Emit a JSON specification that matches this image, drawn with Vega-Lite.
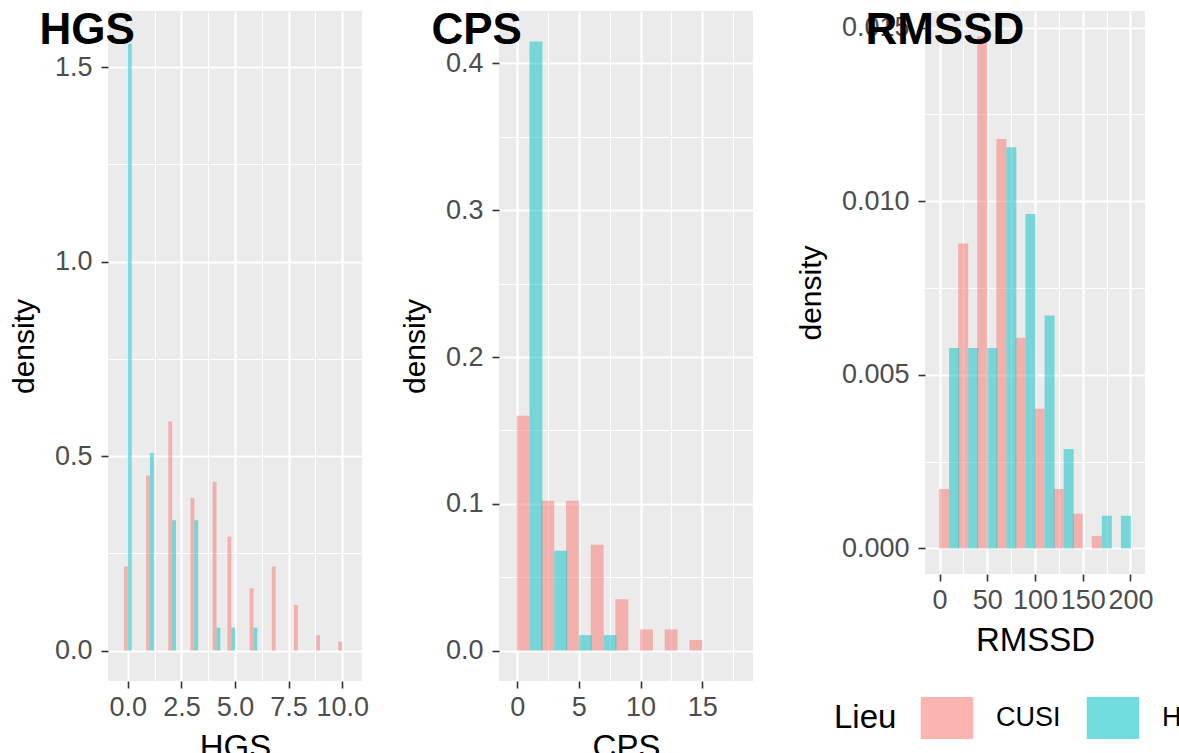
{
  "$schema": "https://vega.github.io/schema/vega-lite/v6.json",
  "background": "white",
  "padding": {"left": 9, "top": 9, "right": 0, "bottom": 0},
  "data": {"values": [
    {"v":"HGS","Lieu":"CUSI","x":0,"density":0.216},
    {"v":"HGS","Lieu":"CUSI","x":1.034,"density":0.45},
    {"v":"HGS","Lieu":"CUSI","x":2.069,"density":0.589},
    {"v":"HGS","Lieu":"CUSI","x":3.103,"density":0.392},
    {"v":"HGS","Lieu":"CUSI","x":4.138,"density":0.434},
    {"v":"HGS","Lieu":"CUSI","x":4.828,"density":0.293},
    {"v":"HGS","Lieu":"CUSI","x":5.862,"density":0.16},
    {"v":"HGS","Lieu":"CUSI","x":6.897,"density":0.216},
    {"v":"HGS","Lieu":"CUSI","x":7.931,"density":0.117},
    {"v":"HGS","Lieu":"CUSI","x":8.966,"density":0.039},
    {"v":"HGS","Lieu":"CUSI","x":10,"density":0.023},
    {"v":"HGS","Lieu":"Hôpital","x":0,"density":1.56},
    {"v":"HGS","Lieu":"Hôpital","x":1.034,"density":0.508},
    {"v":"HGS","Lieu":"Hôpital","x":2.069,"density":0.335},
    {"v":"HGS","Lieu":"Hôpital","x":3.103,"density":0.335},
    {"v":"HGS","Lieu":"Hôpital","x":4.138,"density":0.059},
    {"v":"HGS","Lieu":"Hôpital","x":4.828,"density":0.059},
    {"v":"HGS","Lieu":"Hôpital","x":5.862,"density":0.059},
    {"v":"CPS","Lieu":"CUSI","x":1,"density":0.16},
    {"v":"CPS","Lieu":"CUSI","x":3,"density":0.102},
    {"v":"CPS","Lieu":"CUSI","x":5,"density":0.102},
    {"v":"CPS","Lieu":"CUSI","x":7,"density":0.072},
    {"v":"CPS","Lieu":"CUSI","x":9,"density":0.035},
    {"v":"CPS","Lieu":"CUSI","x":11,"density":0.0144},
    {"v":"CPS","Lieu":"CUSI","x":13,"density":0.0144},
    {"v":"CPS","Lieu":"CUSI","x":15,"density":0.0072},
    {"v":"CPS","Lieu":"Hôpital","x":1,"density":0.415},
    {"v":"CPS","Lieu":"Hôpital","x":3,"density":0.068},
    {"v":"CPS","Lieu":"Hôpital","x":5,"density":0.0105},
    {"v":"CPS","Lieu":"Hôpital","x":7,"density":0.0105},
    {"v":"RMSSD","Lieu":"CUSI","x":10,"density":0.00171},
    {"v":"RMSSD","Lieu":"CUSI","x":30,"density":0.00878},
    {"v":"RMSSD","Lieu":"CUSI","x":50,"density":0.01474},
    {"v":"RMSSD","Lieu":"CUSI","x":70,"density":0.01179},
    {"v":"RMSSD","Lieu":"CUSI","x":90,"density":0.00607},
    {"v":"RMSSD","Lieu":"CUSI","x":110,"density":0.00402},
    {"v":"RMSSD","Lieu":"CUSI","x":130,"density":0.00171},
    {"v":"RMSSD","Lieu":"CUSI","x":150,"density":0.001},
    {"v":"RMSSD","Lieu":"CUSI","x":170,"density":0.00036},
    {"v":"RMSSD","Lieu":"Hôpital","x":10,"density":0.00577},
    {"v":"RMSSD","Lieu":"Hôpital","x":30,"density":0.00577},
    {"v":"RMSSD","Lieu":"Hôpital","x":50,"density":0.00577},
    {"v":"RMSSD","Lieu":"Hôpital","x":70,"density":0.01155},
    {"v":"RMSSD","Lieu":"Hôpital","x":90,"density":0.00963},
    {"v":"RMSSD","Lieu":"Hôpital","x":110,"density":0.00671},
    {"v":"RMSSD","Lieu":"Hôpital","x":130,"density":0.00286},
    {"v":"RMSSD","Lieu":"Hôpital","x":170,"density":0.00094},
    {"v":"RMSSD","Lieu":"Hôpital","x":190,"density":0.00094}
  ]},
  "spacing": 43,
  "hconcat": [
    {
      "spacing": 31,
      "hconcat": [
        {
          "width": 254, "height": 670,
          "title": {"text": "HGS", "dx": 30},
          "encoding": {
            "x": {"field": "x", "type": "quantitative", "title": "HGS",
              "scale": {"domain": [-0.69, 10.69], "nice": false, "zero": false},
              "axis": {"values": [0,1.25,2.5,3.75,5,6.25,7.5,8.75,10], "format": ".1f",
                "labelExpr": "(datum.value==0||datum.value==2.5||datum.value==5||datum.value==7.5||datum.value==10) ? datum.label : ''",
                "tickOpacity": {"condition": {"test": "!(datum.value==0||datum.value==2.5||datum.value==5||datum.value==7.5||datum.value==10)", "value": 0}, "value": 1},
                "gridWidth": {"condition": {"test": "!(datum.value==0||datum.value==2.5||datum.value==5||datum.value==7.5||datum.value==10)", "value": 1.1}, "value": 2.2}}},
            "y": {"field": "density", "type": "quantitative", "title": "density",
              "scale": {"domain": [-0.0783, 1.6443], "nice": false, "zero": false},
              "axis": {"values": [0,0.25,0.5,0.75,1,1.25,1.5], "format": ".1f",
                "labelExpr": "(datum.value==0||datum.value==0.5||datum.value==1||datum.value==1.5) ? datum.label : ''",
                "tickOpacity": {"condition": {"test": "!(datum.value==0||datum.value==0.5||datum.value==1||datum.value==1.5)", "value": 0}, "value": 1},
                "gridWidth": {"condition": {"test": "!(datum.value==0||datum.value==0.5||datum.value==1||datum.value==1.5)", "value": 1.1}, "value": 2.2}}},
            "color": {"field": "Lieu", "type": "nominal", "title": "Lieu",
              "scale": {"domain": ["CUSI", "Hôpital"], "range": ["#F8766D", "#00BFC4"]}}
          },
          "layer": [
            {"transform": [{"filter": "datum.v === 'HGS' && datum.Lieu === 'CUSI'"}],
             "mark": {"type": "bar", "width": 3.85, "xOffset": -1.92, "opacity": 0.5}},
            {"transform": [{"filter": "datum.v === 'HGS' && datum.Lieu === 'Hôpital'"}],
             "mark": {"type": "bar", "width": 3.85, "xOffset": 1.92, "opacity": 0.5}}
          ]
        },
        {
          "width": 254, "height": 670,
          "title": {"text": "CPS", "dx": 31},
          "encoding": {
            "x": {"field": "x", "type": "quantitative", "title": "CPS",
              "scale": {"domain": [-1.07, 18.71], "nice": false, "zero": false},
              "axis": {"values": [0,2.5,5,7.5,10,12.5,15,17.5], "format": "d",
                "labelExpr": "(datum.value==0||datum.value==5||datum.value==10||datum.value==15) ? datum.label : ''",
                "tickOpacity": {"condition": {"test": "!(datum.value==0||datum.value==5||datum.value==10||datum.value==15)", "value": 0}, "value": 1},
                "gridWidth": {"condition": {"test": "!(datum.value==0||datum.value==5||datum.value==10||datum.value==15)", "value": 1.1}, "value": 2.2}}},
            "y": {"field": "density", "type": "quantitative", "title": "density",
              "scale": {"domain": [-0.02075, 0.43575], "nice": false, "zero": false},
              "axis": {"values": [0,0.05,0.1,0.15,0.2,0.25,0.3,0.35,0.4], "format": ".1f",
                "labelExpr": "(datum.value==0||datum.value==0.1||datum.value==0.2||datum.value==0.3||datum.value==0.4) ? datum.label : ''",
                "tickOpacity": {"condition": {"test": "!(datum.value==0||datum.value==0.1||datum.value==0.2||datum.value==0.3||datum.value==0.4)", "value": 0}, "value": 1},
                "gridWidth": {"condition": {"test": "!(datum.value==0||datum.value==0.1||datum.value==0.2||datum.value==0.3||datum.value==0.4)", "value": 1.1}, "value": 2.2}}},
            "color": {"field": "Lieu", "type": "nominal", "title": "Lieu",
              "scale": {"domain": ["CUSI", "Hôpital"], "range": ["#F8766D", "#00BFC4"]}}
          },
          "layer": [
            {"transform": [{"filter": "datum.v === 'CPS' && datum.Lieu === 'CUSI'"}],
             "mark": {"type": "bar", "width": 12.84, "xOffset": -6.42, "opacity": 0.5}},
            {"transform": [{"filter": "datum.v === 'CPS' && datum.Lieu === 'Hôpital'"}],
             "mark": {"type": "bar", "width": 12.84, "xOffset": 6.42, "opacity": 0.5}}
          ]
        }
      ]
    },
    {
      "width": 220, "height": 563,
      "title": {"text": "RMSSD", "dx": 69},
      "encoding": {
        "x": {"field": "x", "type": "quantitative", "title": "RMSSD",
          "scale": {"domain": [-10, 210], "nice": false, "zero": false},
          "axis": {"values": [0,25,50,75,100,125,150,175,200], "format": "d",
            "labelExpr": "(datum.value==0||datum.value==50||datum.value==100||datum.value==150||datum.value==200) ? datum.label : ''",
            "tickOpacity": {"condition": {"test": "!(datum.value==0||datum.value==50||datum.value==100||datum.value==150||datum.value==200)", "value": 0}, "value": 1},
            "gridWidth": {"condition": {"test": "!(datum.value==0||datum.value==50||datum.value==100||datum.value==150||datum.value==200)", "value": 1.1}, "value": 2.2}}},
        "y": {"field": "density", "type": "quantitative", "title": "density",
          "scale": {"domain": [-0.000737, 0.015477], "nice": false, "zero": false},
          "axis": {"values": [0,0.0025,0.005,0.0075,0.01,0.0125,0.015], "format": ".3f",
            "labelExpr": "(datum.value==0||datum.value==0.005||datum.value==0.01||datum.value==0.015) ? datum.label : ''",
            "tickOpacity": {"condition": {"test": "!(datum.value==0||datum.value==0.005||datum.value==0.01||datum.value==0.015)", "value": 0}, "value": 1},
            "gridWidth": {"condition": {"test": "!(datum.value==0||datum.value==0.005||datum.value==0.01||datum.value==0.015)", "value": 1.1}, "value": 2.2}}},
        "color": {"field": "Lieu", "type": "nominal", "title": "Lieu",
          "scale": {"domain": ["CUSI", "Hôpital"], "range": ["#F8766D", "#00BFC4"]}}
      },
      "layer": [
        {"transform": [{"filter": "datum.v === 'RMSSD' && datum.Lieu === 'CUSI'"}],
         "mark": {"type": "bar", "width": 10, "xOffset": -5, "opacity": 0.5}},
        {"transform": [{"filter": "datum.v === 'RMSSD' && datum.Lieu === 'Hôpital'"}],
         "mark": {"type": "bar", "width": 10, "xOffset": 5, "opacity": 0.5}}
      ]
    }
  ],
  "config": {
    "font": "Liberation Sans",
    "view": {"fill": "#EBEBEB", "stroke": null},
    "axis": {"domain": false, "labelFont": "Liberation Sans", "labelFontSize": 27, "labelColor": "#4D4D4D",
      "titleFont": "Liberation Sans", "titleFontWeight": "normal", "titleColor": "#000000",
      "tickColor": "#333333", "tickSize": 7, "tickWidth": 1.6, "gridColor": "#FFFFFF",
      "labelPadding": 9, "labelOverlap": false, "labelFlush": false, "labelBound": false},
    "axisX": {"titlePadding": 11, "titleFontSize": 33, "labelPadding": 6},
    "axisY": {"titlePadding": 15, "titleFontSize": 30},
    "title": {"font": "Liberation Sans", "fontSize": 44, "fontWeight": "bold", "color": "#000000",
      "anchor": "start", "frame": "bounds", "offset": -42},
    "legend": {"orient": "none", "legendX": 726, "legendY": 686, "direction": "horizontal", "titleOrient": "left",
      "titleFont": "Liberation Sans", "titleFontSize": 33, "titleFontWeight": "normal", "titleColor": "#000000",
      "labelFont": "Liberation Sans", "labelFontSize": 27, "labelColor": "#000000",
      "symbolType": "M-1.25,-1H1.25V1H-1.25Z", "symbolSize": 1764, "symbolOpacity": 0.55, "symbolStrokeWidth": 0,
      "labelOffset": 28, "columnPadding": 25, "titlePadding": 29, "padding": 0}
  }
}
